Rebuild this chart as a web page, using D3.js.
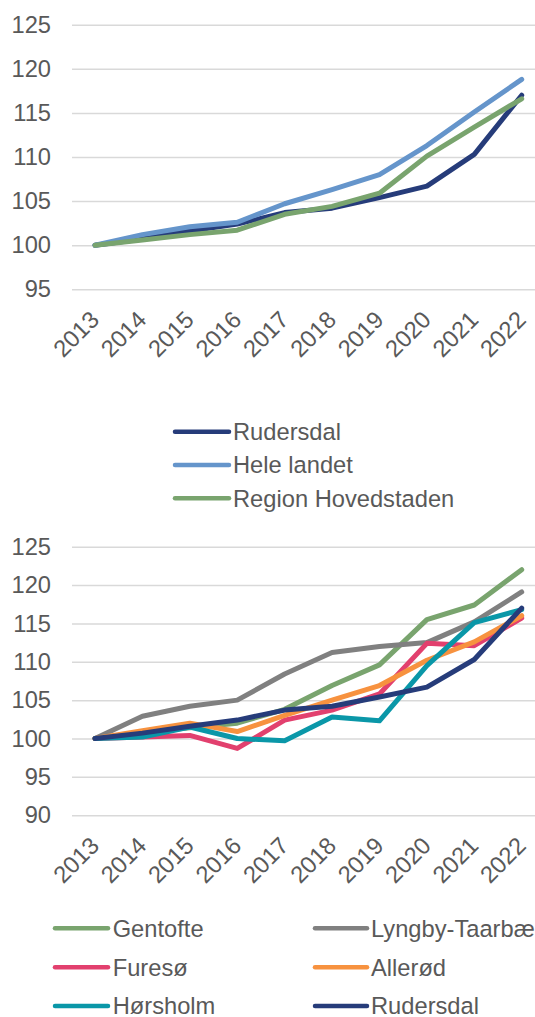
<!DOCTYPE html>
<html><head><meta charset="utf-8">
<script src="https://cdn.jsdelivr.net/npm/d3@7"></script>
<style>body{margin:0;background:#fff}svg{display:block}text{font-family:"Liberation Sans",Arial,sans-serif;fill:#595959}</style>
</head><body>
<script>
const years = ["2013","2014","2015","2016","2017","2018","2019","2020","2021","2022"];
const topTicks = [95,100,105,110,115,120,125];
const bottomTicks = [90,95,100,105,110,115,120,125];

const rudersdal   = [100,100.7,101.6,102.4,103.7,104.2,105.4,106.7,110.3,117.0];
const heleLandet  = [100,101.2,102.1,102.6,104.7,106.3,108.0,111.3,115.1,118.8];
const regionHovedstaden = [100,100.6,101.2,101.7,103.5,104.4,105.9,110.1,113.4,116.6];

const gentofte = [100,100.8,101.4,102.0,103.8,106.9,109.6,115.5,117.4,122.0];
const lyngby   = [100,102.9,104.2,105.0,108.4,111.2,112.0,112.5,115.2,119.1];
const fureso   = [100,100.2,100.4,98.7,102.4,103.7,105.8,112.4,112.1,115.7];
const allerod  = [100,101.0,102.0,100.9,103.0,105.0,106.9,110.2,112.6,116.0];
const horsholm = [100,100.2,101.5,100.0,99.7,102.8,102.3,109.5,115.1,116.8];

const topSeries = [
  {name:"Rudersdal", values:rudersdal, color:"#263C7A"},
  {name:"Hele landet", values:heleLandet, color:"#6595CB"},
  {name:"Region Hovedstaden", values:regionHovedstaden, color:"#79A46E"}
];
const bottomSeries = [
  {name:"Gentofte", values:gentofte, color:"#79A46E"},
  {name:"Lyngby-Taarbæk", values:lyngby, color:"#808080"},
  {name:"Furesø", values:fureso, color:"#E2406E"},
  {name:"Allerød", values:allerod, color:"#F7923F"},
  {name:"Hørsholm", values:horsholm, color:"#0A97A8"},
  {name:"Rudersdal", values:rudersdal, color:"#263C7A"}
];

const W = 535, H = 1017;
const svg = d3.select("body").append("svg").attr("width", W).attr("height", H);
const FS = 23.7;
const x = d3.scalePoint().domain(years).range([95, 521.7]);

function drawChart(series, ticks, yRange, gridX0) {
  const y = d3.scaleLinear().domain([ticks[0], ticks[ticks.length-1]]).range(yRange);
  const g = svg.append("g");
  const yAxis = d3.axisLeft(y).tickValues(ticks).tickSize(-(W + 20 - gridX0)).tickPadding(21);
  const ga = g.append("g").attr("transform", `translate(${gridX0},0)`).call(yAxis);
  ga.select(".domain").remove();
  ga.selectAll(".tick line").attr("stroke", "#D9D9D9").attr("stroke-width", 1.5);
  ga.selectAll(".tick text").attr("font-size", FS).attr("fill", "#595959")
    .style("font-family", '"Liberation Sans", Arial, sans-serif');
  const xAxis = d3.axisBottom(x).tickSize(0).tickPadding(0);
  const gx = g.append("g").attr("transform", `translate(0,${yRange[0]})`).call(xAxis);
  gx.select(".domain").remove();
  gx.selectAll(".tick text")
    .attr("font-size", FS).attr("fill", "#595959")
    .style("font-family", '"Liberation Sans", Arial, sans-serif')
    .attr("text-anchor", "end").attr("dy", null).attr("y", null)
    .attr("transform", "translate(5,32) rotate(-45)");
  const line = d3.line().x((d,i) => x(years[i])).y(d => y(d));
  g.selectAll("path.series").data(series).join("path")
    .attr("class", "series")
    .attr("d", d => line(d.values))
    .attr("fill", "none").attr("stroke", d => d.color)
    .attr("stroke-width", 5).attr("stroke-linecap", "round").attr("stroke-linejoin", "round");
}

drawChart(topSeries, topTicks, [289.3, 24.7], 72);
drawChart(bottomSeries, bottomTicks, [815.2, 546.7], 72);

// top legend
const lt = svg.append("g");
const topRows = [431.7, 465, 498.3];
topSeries.forEach((s, i) => {
  lt.append("line").attr("x1", 175).attr("x2", 229).attr("y1", topRows[i]).attr("y2", topRows[i])
    .attr("stroke", s.color).attr("stroke-width", 4.5).attr("stroke-linecap", "round");
  lt.append("text").attr("x", 233).attr("y", topRows[i]).attr("dy", "0.35em")
    .attr("font-size", FS).text(s.name);
});

// bottom legend
const lb = svg.append("g");
const botRows = [928.3, 967.3, 1006];
const cols = [{x1:55, x2:108, tx:112.7},{x1:315, x2:367, tx:371}];
bottomSeries.forEach((s, i) => {
  const c = cols[i % 2], r = botRows[Math.floor(i / 2)];
  lb.append("line").attr("x1", c.x1).attr("x2", c.x2).attr("y1", r).attr("y2", r)
    .attr("stroke", s.color).attr("stroke-width", 4.5).attr("stroke-linecap", "round");
  lb.append("text").attr("x", c.tx).attr("y", r).attr("dy", "0.35em")
    .attr("font-size", FS).text(s.name);
});
</script>
</body></html>
